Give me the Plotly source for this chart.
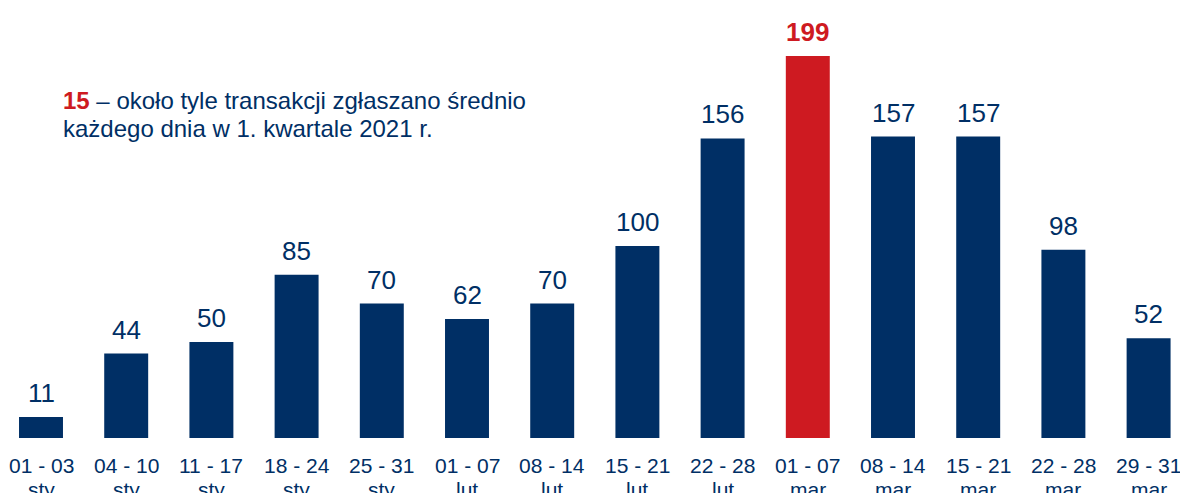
import plotly.graph_objects as go

week_ranges = ["01 - 03", "04 - 10", "11 - 17", "18 - 24", "25 - 31",
               "01 - 07", "08 - 14", "15 - 21", "22 - 28",
               "01 - 07", "08 - 14", "15 - 21", "22 - 28", "29 - 31"]
months = ["sty", "sty", "sty", "sty", "sty", "lut", "lut", "lut", "lut",
          "mar", "mar", "mar", "mar", "mar"]
values = [11, 44, 50, 85, 70, 62, 70, 100, 156, 199, 157, 157, 98, 52]
highlight_index = 9
note_line1 = "– około tyle transakcji zgłaszano średnio"
note_line2 = "każdego dnia w 1. kwartale 2021 r."
note_value = 15

NAVY = "#002F65"
RED = "#CE1A21"
FONT = "Liberation Sans, Arial, sans-serif"

FIG_W = 1180
FIG_H = 493
PX_PER_CAT = 85.2
PLOT_H = 438
PX_PER_UNIT = 1.92

x = list(range(len(values)))
colors = [RED if i == highlight_index else NAVY for i in x]

fig = go.Figure()
fig.add_trace(go.Bar(x=x, y=values, marker=dict(color=colors, line=dict(width=0)),
                     width=0.516, hoverinfo="skip"))

for i, v in zip(x, values):
    hi = i == highlight_index
    fig.add_annotation(x=i, y=v, text=f"<b>{v}</b>" if hi else str(v), showarrow=False,
                       yanchor="bottom", yshift=7,
                       font=dict(family=FONT, size=26, color=RED if hi else NAVY))

# two-line category labels below the baseline
for i, (wr, mo) in enumerate(zip(week_ranges, months)):
    fig.add_annotation(x=i, y=0, text=wr, showarrow=False, yanchor="middle", yshift=-27,
                       font=dict(family=FONT, size=21, color=NAVY))
    fig.add_annotation(x=i, y=0, text=mo, showarrow=False, yanchor="middle", yshift=-51,
                       font=dict(family=FONT, size=21, color=NAVY))

fig.add_annotation(xref="paper", yref="paper", x=61 / FIG_W, y=1 - 101 / PLOT_H, xanchor="left", yanchor="middle",
                   align="left", showarrow=False,
                   text=f"<b><span style='color:{RED}'>{note_value}</span></b> {note_line1}",
                   font=dict(family=FONT, size=24, color=NAVY))
fig.add_annotation(xref="paper", yref="paper", x=61 / FIG_W, y=1 - 128 / PLOT_H, xanchor="left", yanchor="middle",
                   align="left", showarrow=False, text=note_line2,
                   font=dict(family=FONT, size=24, color=NAVY))

start = -41 / PX_PER_CAT
fig.update_layout(
    width=FIG_W, height=FIG_H,
    margin=dict(l=0, r=0, t=0, b=FIG_H - PLOT_H),
    plot_bgcolor="white", paper_bgcolor="white",
    showlegend=False,
    xaxis=dict(range=[start, start + FIG_W / PX_PER_CAT], showticklabels=False,
               showgrid=False, zeroline=False, showline=False, ticks="",
               automargin=False, fixedrange=True),
    yaxis=dict(range=[0, PLOT_H / PX_PER_UNIT], visible=False, showgrid=False, zeroline=False,
               automargin=False, fixedrange=True),
)

fig.write_html("out.html", config={"displayModeBar": False},
               post_script="document.body.style.margin='0';document.body.style.overflow='hidden';")
